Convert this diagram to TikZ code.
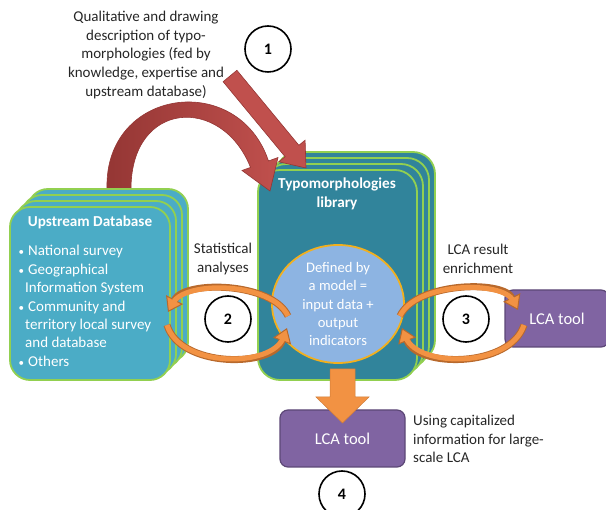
\documentclass[tikz,border=0pt]{standalone}
\usepackage{fontspec}
\setmainfont{Carlito}
\usetikzlibrary{shapes.geometric,arrows.meta}
\definecolor{upc}{HTML}{4BACC6}
\definecolor{libc}{HTML}{31849B}
\definecolor{grn}{HTML}{92D050}
\definecolor{ellc}{HTML}{8DB4E2}
\definecolor{ellb}{HTML}{F2B01E}
\definecolor{pur}{HTML}{8064A2}
\definecolor{purD}{HTML}{5C4776}
\definecolor{orL}{HTML}{F29243}
\definecolor{orD}{HTML}{B8692C}
\definecolor{redL}{HTML}{C0504D}
\definecolor{redD}{HTML}{943634}
\definecolor{txt}{HTML}{262626}
\newcommand\fsz[2]{\fontsize{#1}{#2}\selectfont}
\newcommand\bul{\makebox[10pt][l]{\hspace{0.5pt}{\fontsize{11}{11}\selectfont\textbullet}}}
\newcommand\cont{\hspace*{7pt}}
\tikzset{
  upbox/.style={draw=grn, line width=1.8pt, fill=upc, rounded corners=20pt,
    minimum width=160pt, minimum height=173pt, inner sep=0pt},
  libbox/.style={draw=grn, line width=1.8pt, fill=libc, rounded corners=22pt,
    minimum width=159pt, minimum height=210pt, inner sep=0pt},
  lcabox/.style={draw=purD, line width=1.2pt, fill=pur, rounded corners=8pt,
    text=white, font=\fsz{16.5}{19}, inner sep=0pt},
  num/.style={circle, draw=black, line width=1.6pt, fill=white,
    minimum size=46pt, inner sep=0pt, font=\bfseries\fsz{16}{19}},
  ann/.style={text=txt, align=center, font=\fsz{15}{18.8}, inner sep=0pt},
  wtitle/.style={text=white, align=center, font=\bfseries\fsz{15.2}{18.5}, inner sep=0pt},
  redarrow/.style={fill=redL, draw=redD, line width=0.6pt},
  orarcD/.style={draw=orD, line width=7pt,
    -{Triangle[width=19pt,length=14pt,line width=1pt,fill=orL]}},
  orarcL/.style={draw=orL, line width=5pt, shorten >=10pt},
}
\begin{document}
\begin{tikzpicture}[x=1pt,y=-1pt]
\useasboundingbox (0,0) rectangle (606,510);
% library stack
\node[libbox] (lib3) at (355.5,257) {};
\node[libbox] (lib2) at (349.5,263) {};
\node[libbox] (lib1) at (343.5,269) {};
\node[libbox] (lib)  at (337.5,275) {};
% red curved arrow
\path[left color=redD, right color=redL, draw=redD, line width=0.6pt]
  (107,189) .. controls (104,88) and (238,70) .. (268.5,161)
  -- (278,157.5) -- (270,191) -- (242,170.5) -- (250.5,167.4)
  .. controls (222,95) and (131,100) .. (131,189) -- cycle;
% red straight arrow
\path[redarrow] (223.1,81.7) -- (236.9,70.3) -- (298.9,145.3) -- (305.1,140.2)
  -- (306,168) -- (278.9,161.8) -- (285.1,156.7) -- cycle;
% upstream stack
\node[upbox] (up3) at (108,275.5) {};
\node[upbox] (up2) at (102,281.5) {};
\node[upbox] (up1) at (96,287.5) {};
\node[upbox] (up)  at (90,293.5) {};
% ellipse
\node[ellipse, draw=ellb, line width=1.8pt, fill=ellc, minimum width=132pt,
  minimum height=116pt, inner sep=0pt, text=white, align=center, font=\fsz{14.6}{18.3}]
  (model) at (338,304) {Defined by\\a model =\\input data +\\output\\indicators};
% LCA boxes
\node[lcabox, minimum width=104pt, minimum height=57pt] (lcar) at (557,318.5) {LCA tool};
\node[lcabox, minimum width=125pt, minimum height=57pt] (lcab) at (342.5,438.5) {LCA tool};
% orange cycles
\coordinate (l1s) at (288,316); \coordinate (l1e) at (168,312);
\coordinate (l2s) at (167,325); \coordinate (l2e) at (287,328);
\coordinate (r1s) at (400,316); \coordinate (r1e) at (518,310);
\coordinate (r2s) at (524,325); \coordinate (r2e) at (402,328);
\foreach \st in {orarcD,orarcL}{
  \draw[\st] (l1s) .. controls (272,282) and (185,280) .. (l1e);
  \draw[\st] (l2s) .. controls (180,368) and (272,368) .. (l2e);
  \draw[\st] (r1s) .. controls (416,282) and (503,280) .. (r1e);
  \draw[\st] (r2s) .. controls (510,368) and (418,368) .. (r2e);
}
% orange down arrow
\path[fill=orL, draw=orL!85!black, line width=0.5pt]
  (330,369) -- (355,369) -- (355,397) -- (369,397) -- (342.5,423)
  -- (316,397) -- (330,397) -- cycle;
% circles
\node[num] (n1) at (268,49) {1};
\node[num] (n2) at (228,319) {2};
\node[num] (n3) at (466,319) {3};
\node[num] (n4) at (342,494) {4};
% texts
\node[ann] (t1) at (146,55) {Qualitative and drawing\\description of typo-\\morphologies (fed by\\knowledge, expertise and\\upstream database)};
\node[ann] (t2) at (223,259) {Statistical\\analyses};
\node[ann] (t3) at (478,259) {LCA result\\enrichment};
\node[ann, align=left, anchor=west] (t4) at (413,439) {Using capitalized\\information for large-\\scale LCA};
\node[wtitle] (uptitle) at (90,222) {Upstream Database};
\node[wtitle] (libtitle) at (337,194) {Typomorphologies\\library};
\node[text=white, align=left, anchor=west, font=\fsz{15}{18.4}, inner sep=0pt] (ulist) at (18,306)
  {\bul National survey\\\bul Geographical\\\cont Information System\\\bul Community and\\\cont territory local survey\\\cont and database\\\bul Others};
\end{tikzpicture}
\end{document}
